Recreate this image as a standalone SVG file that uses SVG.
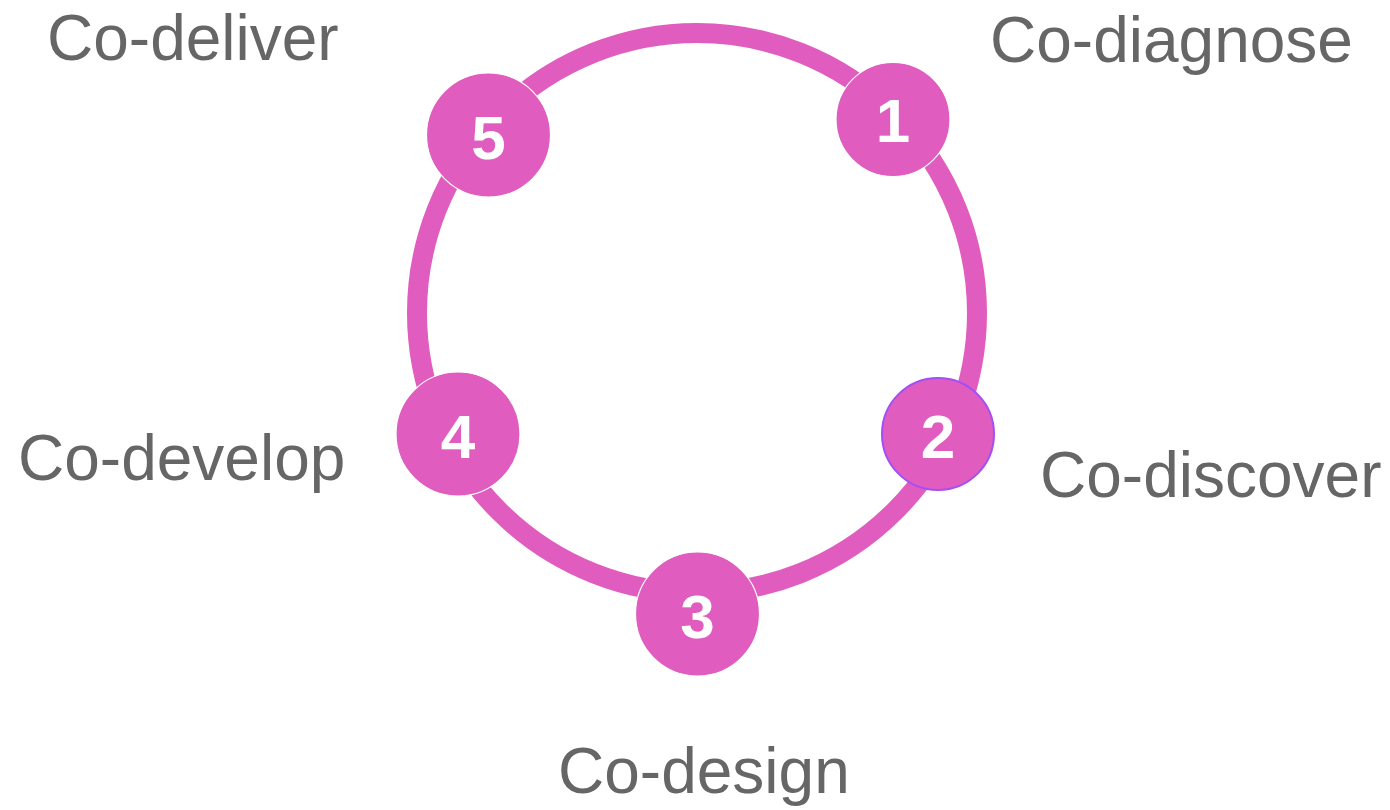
<svg xmlns="http://www.w3.org/2000/svg" width="1390" height="810" viewBox="0 0 1390 810">
  <style>
    .ring { fill: none; stroke: #e05cbf; stroke-width: 20; }
    .node { fill: #e05cbf; stroke: #ffffff; stroke-width: 1.2; }
    .node-alt { fill: #e05cbf; stroke: #a24ff5; stroke-width: 2; }
    .num { font-family: "Liberation Sans", Arial, sans-serif; font-weight: bold; font-size: 62px; fill: #ffffff; text-anchor: middle; }
    .label { font-family: "Liberation Sans", Arial, sans-serif; font-size: 64px; fill: #666666; }
  </style>
  <rect width="1390" height="810" fill="#ffffff"/>
  <g id="connectors">
    <circle class="ring" cx="697" cy="313" r="280"/>
  </g>
  <g id="node-1">
    <circle class="node" cx="893" cy="119.5" r="57"/>
    <text class="num" x="893" y="142">1</text>
    <text class="label" x="990" y="62">Co-diagnose</text>
  </g>
  <g id="node-2">
    <circle class="node-alt" cx="938" cy="434" r="56"/>
    <text class="num" x="938" y="458">2</text>
    <text class="label" x="1040" y="497">Co-discover</text>
  </g>
  <g id="node-3">
    <circle class="node" cx="697.5" cy="614" r="62"/>
    <text class="num" x="697.5" y="638">3</text>
    <text class="label" x="558" y="793">Co-design</text>
  </g>
  <g id="node-4">
    <circle class="node" cx="458" cy="434" r="62"/>
    <text class="num" x="458" y="458">4</text>
    <text class="label" x="18" y="480">Co-develop</text>
  </g>
  <g id="node-5">
    <circle class="node" cx="488.5" cy="135" r="62"/>
    <text class="num" x="488.5" y="159">5</text>
    <text class="label" x="47" y="60">Co-deliver</text>
  </g>
</svg>
